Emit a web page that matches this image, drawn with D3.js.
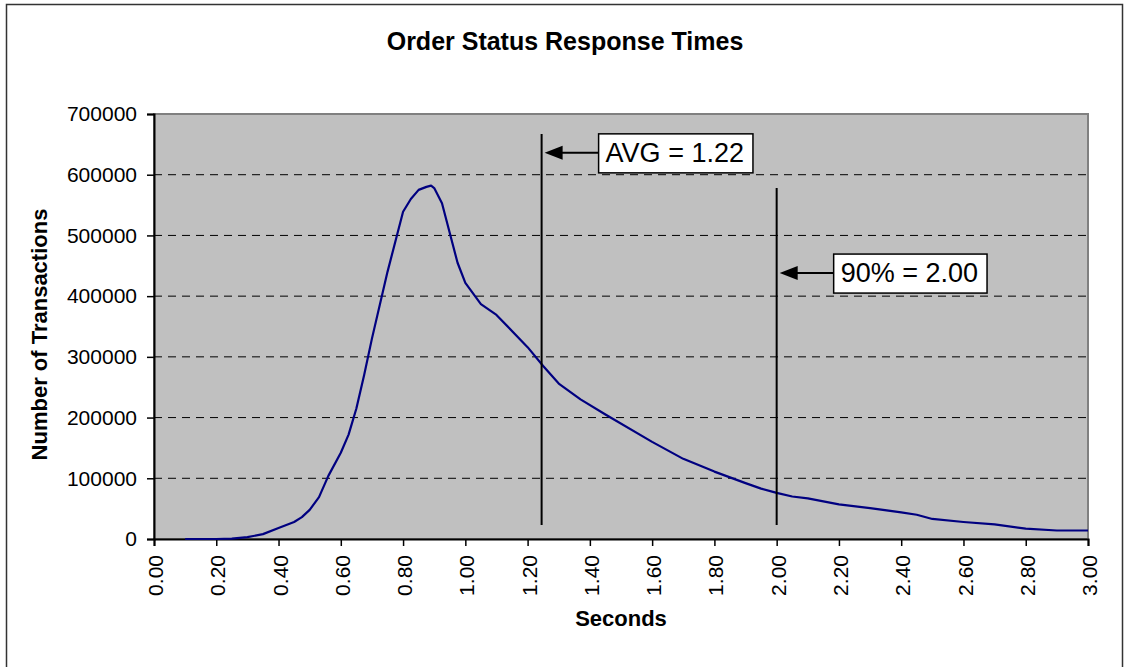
<!DOCTYPE html>
<html lang="en">
<head>
  <meta charset="UTF-8">
  <title>Order Status Response Times</title>
  <style>
    body { margin: 0; background: #fff; }
    svg text { font-family: "Liberation Sans", Arial, sans-serif; fill: #000; }
  </style>
</head>
<body>
  <div id="chart"></div>

  <script src="https://d3js.org/d3.v7.min.js"></script>
  <script>
    // response time buckets (seconds) and transaction counts
    const seconds = [0.10, 0.15, 0.20, 0.25, 0.30, 0.35, 0.40, 0.45, 0.475, 0.50, 0.53, 0.56, 0.60,
                     0.625, 0.65, 0.675, 0.70, 0.75, 0.80, 0.825, 0.85, 0.875, 0.89, 0.90, 0.925, 0.95, 0.975,
                     1.00, 1.05, 1.10, 1.20, 1.25, 1.30, 1.37, 1.45, 1.60, 1.70, 1.80, 1.90, 1.95,
                     2.00, 2.05, 2.10, 2.20, 2.30, 2.40, 2.45, 2.50, 2.60, 2.70, 2.80, 2.90, 3.00];
    const transactions = [0, 0, 0, 500, 3000, 8000, 18000, 28000, 36000, 48000, 69000, 104000, 142000,
                          172000, 215000, 270000, 330000, 440000, 539000, 560000, 575000, 580000, 582000, 578000, 553000, 504000, 455000,
                          422000, 387000, 369000, 316000, 285000, 256000, 230000, 205000, 160000, 132000, 111000, 92000, 83000,
                          76000, 70000, 67000, 57000, 51000, 44000, 40000, 33000, 28000, 24000, 17000, 14000, 14000];

    const xTicks = d3.range(0, 16).map(i => i * 0.2);
    const yTicks = d3.range(0, 8).map(i => i * 100000);

    // marker lines: where they sit (seconds), their extent and label centre (transactions)
    const markerLabels = ['AVG = 1.22', '90% = 2.00'];
    const markerSeconds = [1.245, 2.00];
    const markerTops = [667000, 578000];
    const markerBottoms = [23000, 23000];
    const markerLabelAt = [636000, 438000];

    const width = 1130, height = 667;
    const plot = { left: 154, right: 1088, top: 114, bottom: 539 };

    const svg = d3.select('#chart').append('svg')
      .attr('width', width)
      .attr('height', height);

    // outer chart frame
    svg.append('rect')
      .attr('x', 6.5).attr('y', 4.5)
      .attr('width', 1116).attr('height', 680)
      .attr('fill', 'none')
      .attr('stroke', '#333')
      .attr('stroke-width', 1.5);

    const x = d3.scaleLinear().domain([0, 3]).range([plot.left, plot.right]);
    const y = d3.scaleLinear().domain([0, 700000]).range([plot.bottom, plot.top]);

    // plot area
    svg.append('rect')
      .attr('x', plot.left).attr('y', plot.top)
      .attr('width', plot.right - plot.left)
      .attr('height', plot.bottom - plot.top)
      .attr('fill', '#c0c0c0')
      .attr('stroke', '#808080')
      .attr('stroke-width', 2);

    // dashed gridlines
    svg.append('g')
      .selectAll('line')
      .data(yTicks.filter(d => d > 0 && d < 700000))
      .enter().append('line')
      .attr('x1', plot.left).attr('x2', plot.right)
      .attr('y1', d => y(d)).attr('y2', d => y(d))
      .attr('stroke', '#000')
      .attr('stroke-width', 1)
      .attr('stroke-dasharray', '8,6');

    // axes
    const yAxis = d3.axisLeft(y).tickValues(yTicks).tickFormat(d3.format('d')).tickSize(7).tickPadding(10);
    const gy = svg.append('g')
      .attr('transform', `translate(${plot.left},0)`)
      .call(yAxis);
    gy.selectAll('text').style('font-size', '21px');

    const xAxis = d3.axisBottom(x).tickValues(xTicks).tickFormat(d3.format('.2f')).tickSize(7);
    const gx = svg.append('g')
      .attr('transform', `translate(0,${plot.bottom})`)
      .call(xAxis);
    gx.selectAll('text')
      .style('font-size', '21px')
      .attr('text-anchor', 'end')
      .attr('transform', 'translate(1,16) rotate(-90)')
      .attr('x', 0).attr('y', 0)
      .attr('dy', '0.36em');

    [gx, gy].forEach(g => {
      g.select('.domain').attr('stroke', '#000').attr('stroke-width', 2);
      g.selectAll('.tick line').attr('stroke', '#000').attr('stroke-width', 1.5);
    });

    // series
    const points = seconds.map((s, i) => [s, transactions[i]]);
    svg.append('path')
      .datum(points)
      .attr('fill', 'none')
      .attr('stroke', '#000080')
      .attr('stroke-width', 2.2)
      .attr('stroke-linejoin', 'round')
      .attr('d', d3.line().x(d => x(d[0])).y(d => y(d[1])));

    // marker lines with labelled arrows
    markerLabels.forEach((label, i) => {
      const lx = x(markerSeconds[i]);
      const g = svg.append('g').attr('class', 'marker');
      g.append('line')
        .attr('x1', lx).attr('x2', lx)
        .attr('y1', y(markerTops[i])).attr('y2', y(markerBottoms[i]))
        .attr('stroke', '#000')
        .attr('stroke-width', 2);

      const cy = y(markerLabelAt[i]);
      const boxX = lx + 57;
      const box = g.append('rect');
      const txt = g.append('text')
        .attr('x', boxX + 7)
        .attr('y', cy + 9)
        .style('font-size', '27px')
        .text(label);
      const tw = txt.node().getComputedTextLength();

      box.attr('x', boxX).attr('y', cy - 19)
        .attr('width', tw + 16).attr('height', 39)
        .attr('fill', '#fff')
        .attr('stroke', '#000')
        .attr('stroke-width', 1.5);

      g.append('line')
        .attr('x1', boxX).attr('x2', lx + 18)
        .attr('y1', cy).attr('y2', cy)
        .attr('stroke', '#000')
        .attr('stroke-width', 2);
      g.append('path')
        .attr('d', `M${lx + 3},${cy} L${lx + 21},${cy - 7} L${lx + 21},${cy + 7} Z`)
        .attr('fill', '#000');
    });

    // titles
    svg.append('text')
      .attr('x', 565).attr('y', 50)
      .attr('text-anchor', 'middle')
      .style('font-size', '25px')
      .style('font-weight', 'bold')
      .text('Order Status Response Times');

    svg.append('text')
      .attr('x', (plot.left + plot.right) / 2).attr('y', 626)
      .attr('text-anchor', 'middle')
      .style('font-size', '22px')
      .style('font-weight', 'bold')
      .text('Seconds');

    svg.append('text')
      .attr('transform', `translate(47,${(plot.top + plot.bottom) / 2 + 8}) rotate(-90)`)
      .attr('text-anchor', 'middle')
      .style('font-size', '22px')
      .style('font-weight', 'bold')
      .text('Number of Transactions');
  </script>
</body>
</html>
